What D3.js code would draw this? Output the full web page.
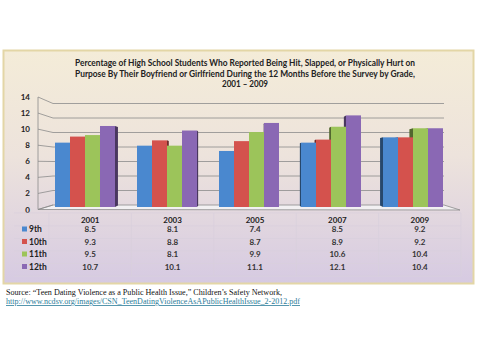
<!DOCTYPE html>
<html><head><meta charset="utf-8">
<script src="https://cdn.jsdelivr.net/npm/d3@7"></script>
<style>body{margin:0;background:#fff}svg{display:block}</style>
</head><body>
<script>
const years = ["2001","2003","2005","2007","2009"];
const grades = ["9th","10th","11th","12th"];
const g9  = [8.5, 8.1, 7.4, 8.5, 9.2];
const g10 = [9.3, 8.8, 8.7, 8.9, 9.2];
const g11 = [9.5, 8.1, 9.9, 10.6, 10.4];
const g12 = [10.7, 10.1, 11.1, 12.1, 10.4];
const yTicks = [0, 2, 4, 6, 8, 10, 12, 14];
const colors = ["#4a88cf", "#d4524d", "#9cc45a", "#8a68b4"];
const titleLines = [
  "Percentage of High School Students Who Reported Being Hit, Slapped, or Physically Hurt on",
  "Purpose By Their Boyfriend or Girlfriend During the 12 Months Before the Survey by Grade,",
  "2001 \u2013 2009"
];
const sourceText = "Source:  \u201cTeen Dating Violence as a Public Health Issue,\u201d Children\u2019s Safety Network,";
const linkText = "http://www.ncdsv.org/images/CSN_TeenDatingViolenceAsAPublicHealthIssue_2-2012.pdf";

const series = [g9, g10, g11, g12];
const W = 478, H = 357;
const svg = d3.select("body").append("svg").attr("width", W).attr("height", H);
const defs = svg.append("defs");
const bg = defs.append("linearGradient").attr("id","bg").attr("x1",0).attr("y1",0).attr("x2",0).attr("y2",1);
bg.append("stop").attr("offset","0%").attr("stop-color","#f4ecd8");
bg.append("stop").attr("offset","45%").attr("stop-color","#ede3dc");
bg.append("stop").attr("offset","100%").attr("stop-color","#d6cae2");

svg.append("rect").attr("x",3.5).attr("y",50.5).attr("width",470).attr("height",233)
  .attr("fill","url(#bg)").attr("stroke","#e3d6a6").attr("stroke-width",2);

// title
const font = "Lato, 'Open Sans', sans-serif";
const tw = [340, 340, 46];
titleLines.forEach((t,i)=>{
  svg.append("text").attr("x",245).attr("y",66 + i*10.5).attr("text-anchor","middle")
    .attr("font-family",font).attr("font-weight","bold").attr("font-size",9)
    .attr("fill","#222").attr("textLength",tw[i]).attr("lengthAdjust","spacingAndGlyphs").text(t);
});

// scales
const yFront = d3.scaleLinear().domain([0,14]).range([207,101]);
const yBack = d3.scaleLinear().domain([0,14]).range([205,103.5]);
const ySide = d3.scaleLinear().domain([0,14]).range([209.5,97]);
const x0 = d3.scaleBand().domain(years).range([44,454]).paddingInner(22/82).paddingOuter(11/82);
const x1 = d3.scaleBand().domain(grades).range([0, x0.bandwidth()]);

// floor
svg.append("path").attr("d", `M38,${ySide(0)} L53,${yBack(0)} L444,${yBack(0)} L460,${ySide(0)+0.5} Z`)
  .attr("fill","#f2f0f2").attr("stroke","#8a8a8a").attr("stroke-width",0.8);

// gridlines
const grid = svg.append("g");
yTicks.forEach(v=>{
  if (v>0) grid.append("line").attr("x1",53).attr("x2",444).attr("y1",yBack(v)).attr("y2",yBack(v))
    .attr("stroke","#8c8c8c").attr("stroke-width",0.8);
  grid.append("line").attr("x1",38).attr("x2",53).attr("y1",ySide(v)).attr("y2",yBack(v))
    .attr("stroke","#8c8c8c").attr("stroke-width",0.8);
});
svg.append("line").attr("x1",38).attr("x2",38).attr("y1",ySide(0)).attr("y2",ySide(14)).attr("stroke","#8c8c8c").attr("stroke-width",0.8);

// y tick labels
yTicks.forEach(v=>{
  svg.append("text").attr("x",30).attr("y",ySide(v)+3).attr("text-anchor","end")
    .attr("font-family",font).attr("font-weight","bold").attr("font-size",8).attr("fill","#222").text(v);
});

// bars
const vp = 249, f = 0.022, depth = 0.75;
const bars = [];
years.forEach((yr,gi)=>{
  grades.forEach((gr,si)=>{
    const xa = x0(yr)+x1(gr), xb = xa + x1.bandwidth();
    bars.push({xa, xb, v: series[si][gi], c: colors[si]});
  });
});
const yB = v => yFront(v) + depth*(yBack(v)-yFront(v));
const sides = svg.append("g"), fronts = svg.append("g");
bars.forEach(b=>{
  const edge = (b.xb < vp) ? b.xb : (b.xa > vp ? b.xa : null);
  if (edge !== null) {
    const dx = (vp - edge)*f;
    sides.append("path").attr("d",
      `M${edge},${yFront(b.v)} L${edge+dx},${yB(b.v)} L${edge+dx},${yB(0)} L${edge},${yFront(0)} Z`)
      .attr("fill", d3.color(b.c).darker(1.8));
  }
  fronts.append("rect").attr("x",b.xa).attr("y",yFront(b.v)).attr("width",b.xb-b.xa)
    .attr("height",yFront(0)-yFront(b.v)).attr("fill",b.c);
});

// data table
const tx = d3.scaleBand().domain(years).range([49,461]);
const rowY = [232, 244.5, 257, 269.5];
const tg = svg.append("g").attr("stroke","#d9d0dc").attr("stroke-width",0.7);
tx.domain().forEach(d=>tg.append("line").attr("x1",tx(d)).attr("x2",tx(d)).attr("y1",213).attr("y2",276));
tg.append("line").attr("x1",461).attr("x2",461).attr("y1",213).attr("y2",276);
[213,226,238.5,251,263.5,276].forEach(y=>tg.append("line").attr("x1",14).attr("x2",461).attr("y1",y).attr("y2",y));

years.forEach(yr=>{
  svg.append("text").attr("x",tx(yr)+tx.bandwidth()/2).attr("y",223).attr("text-anchor","middle")
    .attr("font-family",font).attr("font-weight","bold").attr("font-size",8).attr("fill","#222").text(yr);
});
grades.forEach((gr,si)=>{
  svg.append("rect").attr("x",22).attr("y",rowY[si]-5.5).attr("width",5).attr("height",5).attr("fill",colors[si]);
  svg.append("text").attr("x",29).attr("y",rowY[si]).attr("font-family",font).attr("font-weight","bold")
    .attr("font-size",8.5).attr("fill","#222").text(gr);
  years.forEach((yr,gi)=>{
    svg.append("text").attr("x",tx(yr)+tx.bandwidth()/2).attr("y",rowY[si]).attr("text-anchor","middle")
      .attr("font-family",font).attr("font-weight","bold").attr("font-size",8).attr("fill","#333")
      .text(series[si][gi].toFixed(1));
  });
});

// source
svg.append("text").attr("x",6).attr("y",294.5).attr("font-family","'Liberation Serif', serif")
  .attr("font-size",8.5).attr("fill","#111").attr("textLength",276).attr("lengthAdjust","spacingAndGlyphs").text(sourceText);
svg.append("text").attr("x",6).attr("y",304).attr("font-family","'Liberation Serif', serif")
  .attr("font-size",8).attr("fill","#2c7d9a").attr("text-decoration","underline")
  .attr("textLength",294).attr("lengthAdjust","spacingAndGlyphs").text(linkText);
</script>
</body></html>
